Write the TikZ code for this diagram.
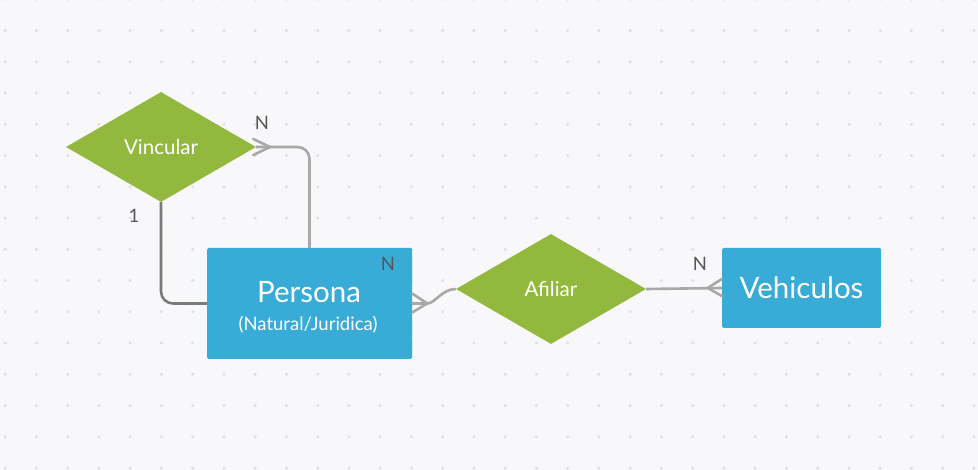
\documentclass[tikz,border=0pt]{standalone}
\usepackage{fontspec}
\setmainfont{Lato}
\usetikzlibrary{shapes.geometric}
\definecolor{bgc}{HTML}{F8F8FA}
\definecolor{dotc}{HTML}{DFDFE3}
\definecolor{boxblue}{HTML}{38ABD7}
\definecolor{dgreen}{HTML}{93B83E}
\definecolor{lineg}{HTML}{A8A8A8}
\definecolor{lined}{HTML}{7A7A7A}
\definecolor{labc}{HTML}{555555}
\tikzset{
  entity/.style={rectangle, fill=boxblue, rounded corners=1.5pt, inner sep=0pt, text=white, align=center},
  rel/.style={diamond, fill=dgreen, minimum width=190pt, minimum height=110pt, aspect=1.727, inner sep=0pt, text=white, font=\fontsize{20.5}{24}\selectfont},
  conn/.style={draw=lineg, line width=2.6pt, rounded corners=12pt},
  connd/.style={draw=lined, line width=2.6pt, rounded corners=12pt},
  foot/.style={draw=lineg, line width=2.6pt, line cap=round},
  card/.style={text=labc, font=\fontsize{18.5}{22}\selectfont, inner sep=0pt}
}
\begin{document}
\begin{tikzpicture}[x=1pt,y=-1pt]
\useasboundingbox (0,0) rectangle (978,470);
\fill[bgc] (0,0) rectangle (978,470);
\foreach \i in {0,...,31} {
  \foreach \j in {0,...,15} {
    \fill[dotc] ({5.2+31.25*\i},{-0.7+31.25*\j}) circle (1.7);
  }
}
% nodes
\node[rel] (vin) at (161,147) {Vincular};
\node[rel] (afi) at (551,289) {Afiliar};
\node[entity, minimum width=205pt, minimum height=111pt] (per) at (309.5,303.5) {};
\node[text=white, font=\fontsize{29.5}{33}\selectfont, inner sep=0pt] (pername) at (309,292) {Persona};
\node[text=white, font=\fontsize{18.5}{22}\selectfont, inner sep=0pt] (persub) at (308,325) {(Natural/Juridica)};
\node[entity, minimum width=159pt, minimum height=80pt, font=\fontsize{29.5}{33}\selectfont] (veh) at (801.5,288) {Vehiculos};
% connectors
\draw[connd] (vin.south) |- (per.west);
\draw[conn] (per.north) |- (vin.east);
\coordinate (f1) at ([xshift=14pt]vin.east);
\draw[foot] ([shift={(-3,-8)}]vin.east) -- (f1) -- ([shift={(-3,8)}]vin.east);
\coordinate (f2) at ([xshift=15pt]per.east);
\draw[foot] ([yshift=-9pt]per.east) -- (f2) -- ([yshift=10pt]per.east);
\draw[foot] (per.east) -- (f2);
\draw[conn] (f2) .. controls +(8,0) and +(-14,0) .. (afi.west);
\coordinate (f3) at ([xshift=-14pt]veh.west);
\draw[conn] (afi.east) -- (veh.west);
\draw[foot] ([yshift=-8pt]veh.west) -- (f3) -- ([yshift=9pt]veh.west);
% labels
\node[card] (lab1) at (262,123) {N};
\node[card] (lab2) at (134,216) {1};
\node[card] (lab3) at (388,264) {N};
\node[card] (lab4) at (700,264) {N};
\end{tikzpicture}
\end{document}
